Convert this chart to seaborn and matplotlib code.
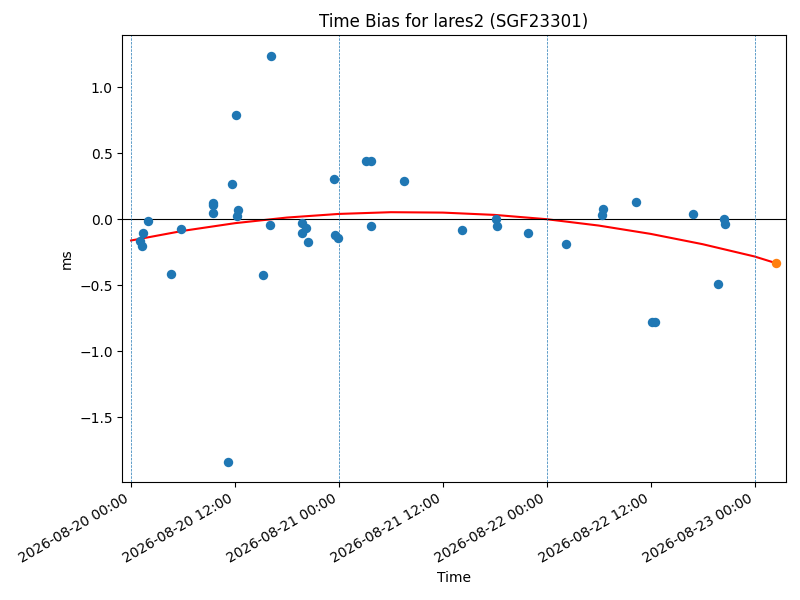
import matplotlib
matplotlib.use('Agg')
import matplotlib.pyplot as plt
import matplotlib.dates as mdates
import seaborn as sns
import pandas as pd

# time bias measurements (ms)
obs_times = [
    '2026-08-20 01:05', '2026-08-20 01:19', '2026-08-20 01:23', '2026-08-20 01:58',
    '2026-08-20 04:35', '2026-08-20 05:46', '2026-08-20 09:28', '2026-08-20 09:28',
    '2026-08-20 09:28', '2026-08-20 11:10', '2026-08-20 11:39', '2026-08-20 12:05',
    '2026-08-20 12:14', '2026-08-20 12:21', '2026-08-20 15:12', '2026-08-20 16:02',
    '2026-08-20 16:07', '2026-08-20 19:42', '2026-08-20 20:10', '2026-08-20 19:44',
    '2026-08-20 20:25', '2026-08-20 23:25', '2026-08-20 23:32', '2026-08-20 23:53',
    '2026-08-21 03:08', '2026-08-21 03:40', '2026-08-21 03:41', '2026-08-21 07:30',
    '2026-08-21 14:12', '2026-08-21 18:10', '2026-08-21 18:14', '2026-08-21 21:49',
    '2026-08-22 02:14', '2026-08-22 06:22', '2026-08-22 06:31', '2026-08-22 10:20',
    '2026-08-22 12:07', '2026-08-22 12:27', '2026-08-22 16:53', '2026-08-22 19:48',
    '2026-08-22 20:28', '2026-08-22 20:37',
]
obs_bias = [
    -0.164, -0.200, -0.106, -0.013,
    -0.417, -0.076, 0.123, 0.105,
    0.048, -1.833, 0.267, 0.790,
    0.025, 0.070, -0.422, -0.043,
    1.237, -0.028, -0.066, -0.106,
    -0.172, 0.305, -0.121, -0.144,
    0.442, 0.442, -0.053, 0.290,
    -0.081, 0.005, -0.053, -0.106,
    -0.187, 0.030, 0.080, 0.131,
    -0.780, -0.780, 0.040, -0.492,
    0.002, -0.038,
]

# fitted curve, every 6 hours
fit_times = [
    '2026-08-20 00:00', '2026-08-20 06:00', '2026-08-20 12:00', '2026-08-20 18:00',
    '2026-08-21 00:00', '2026-08-21 06:00', '2026-08-21 12:00', '2026-08-21 18:00',
    '2026-08-22 00:00', '2026-08-22 06:00', '2026-08-22 12:00', '2026-08-22 18:00',
    '2026-08-23 00:00', '2026-08-23 02:30',
]
fit_bias = [
    -0.161, -0.088, -0.030, 0.0125,
    0.040, 0.053, 0.050, 0.0325,
    0.0, -0.048, -0.111, -0.189,
    -0.282, -0.333,
]

# predicted point
pred_time = ['2026-08-23 02:30']
pred_bias = [-0.333]

day_marks = ['2026-08-20', '2026-08-21', '2026-08-22', '2026-08-23']

obs = pd.DataFrame({'time': pd.to_datetime(obs_times), 'bias': obs_bias})
fit = pd.DataFrame({'time': pd.to_datetime(fit_times), 'bias': fit_bias})
pred = pd.DataFrame({'time': pd.to_datetime(pred_time), 'bias': pred_bias})

fig, ax = plt.subplots(figsize=(8, 6), dpi=100)

sns.scatterplot(data=obs, x='time', y='bias', ax=ax, color='C0', s=46, linewidth=0, zorder=3)
sns.lineplot(data=fit, x='time', y='bias', ax=ax, color='red', linewidth=1.5, sort=False, zorder=2)
sns.scatterplot(data=pred, x='time', y='bias', ax=ax, color='C1', s=46, linewidth=0, zorder=4)

ax.axhline(0, color='black', linewidth=0.8)
for d in day_marks:
    ax.axvline(pd.Timestamp(d), color='C0', linestyle='--', linewidth=0.5)

ax.set_xlim(pd.Timestamp('2026-08-19 23:00'), pd.Timestamp('2026-08-23 03:35'))
ax.xaxis.set_major_locator(mdates.HourLocator(byhour=[0, 12]))
ax.xaxis.set_major_formatter(mdates.DateFormatter('%Y-%m-%d %H:%M'))
plt.setp(ax.get_xticklabels(), rotation=30, ha='right')

ax.set_title('Time Bias for lares2 (SGF23301)')
ax.set_xlabel('Time')
ax.set_ylabel('ms')

plt.subplots_adjust(left=0.153, right=0.982, top=0.941, bottom=0.197)
plt.savefig('out.png', dpi=100)
